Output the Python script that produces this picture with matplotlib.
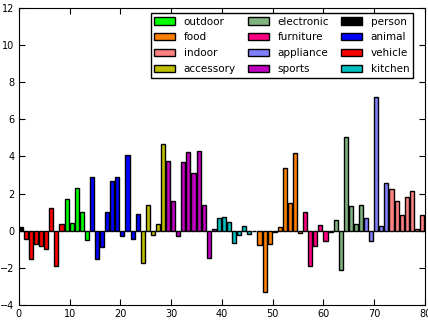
import matplotlib
matplotlib.use("Agg")
import matplotlib.pyplot as plt
from matplotlib.patches import Patch

# category blocks, in the order the bars appear along x
block_names = ["person", "vehicle", "outdoor", "animal", "accessory", "sports",
               "kitchen", "food", "furniture", "electronic", "appliance", "indoor"]
block_sizes = [1, 8, 5, 10, 5, 10, 7, 10, 6, 6, 5, 7]

colors = {
    "outdoor": "#00ff00",
    "food": "#ff8000",
    "indoor": "#ff8080",
    "accessory": "#bfbf00",
    "electronic": "#80b380",
    "furniture": "#ff0080",
    "appliance": "#8080ff",
    "sports": "#bf00bf",
    "person": "#000000",
    "animal": "#0000ff",
    "vehicle": "#ff0000",
    "kitchen": "#00bfbf",
}

legend_order = ["outdoor", "food", "indoor", "accessory",
                "electronic", "furniture", "appliance", "sports",
                "person", "animal", "vehicle", "kitchen"]

person = [0.2]
vehicle = [-0.46, -1.51, -0.69, -0.83, -0.98, 1.24, -1.88, 0.37]
outdoor = [1.69, 0.41, 2.29, 1.0, -0.52]
animal = [2.91, -1.53, -0.89, 0.99, 2.7, 2.91, -0.28, 4.07, -0.43, 0.89]
accessory = [-1.76, 1.4, -0.21, 0.34, 4.65]
sports = [3.75, 1.58, -0.27, 3.71, 4.25, 3.09, 4.32, 1.4, -1.47, 0.09]
kitchen = [0.69, 0.75, 0.46, -0.66, -0.23, 0.28, -0.18]
food = [0.0, -0.75, -3.31, -0.69, -0.05, 0.2, 3.38, 1.49, 4.19, -0.14]
furniture = [1.01, -1.88, -0.85, 0.32, -0.53, -0.07]
electronic = [0.6, -2.13, 5.05, 1.33, 0.38, 1.4]
appliance = [0.66, -0.57, 7.2, 0.28, 2.58]
indoor = [2.25, 1.6, 0.85, 1.82, 2.13, 0.07, 0.86]

values = (person + vehicle + outdoor + animal + accessory + sports
          + kitchen + food + furniture + electronic + appliance + indoor)
labels = [name for name, n in zip(block_names, block_sizes) for _ in range(n)]

fig = plt.figure(figsize=(4.28, 3.21), dpi=100)
ax = fig.add_axes([0.044, 0.05, 0.949, 0.925])

x = list(range(len(values)))
ax.bar(x, values, width=0.8, align="edge",
       color=[colors[c] for c in labels], edgecolor="black", linewidth=1.0)

ax.set_xlim(0, 80)
ax.set_ylim(-4, 12)
ax.set_xticks(range(0, 81, 10))
ax.set_yticks(range(-4, 13, 2))
ax.tick_params(direction="in", top=True, right=True, labelsize=7, length=4, pad=3)

handles = [Patch(facecolor=colors[c], edgecolor="black", linewidth=1.0) for c in legend_order]
ax.legend(handles, legend_order, ncol=3, loc="upper right", fontsize=7.5,
          handlelength=2.0, handleheight=0.7, labelspacing=0.55, columnspacing=1.2,
          handletextpad=0.8, borderpad=0.35, borderaxespad=0, fancybox=False,
          framealpha=1, edgecolor="black", bbox_to_anchor=(0.970, 0.983))

fig.savefig("out.png", dpi=100)
